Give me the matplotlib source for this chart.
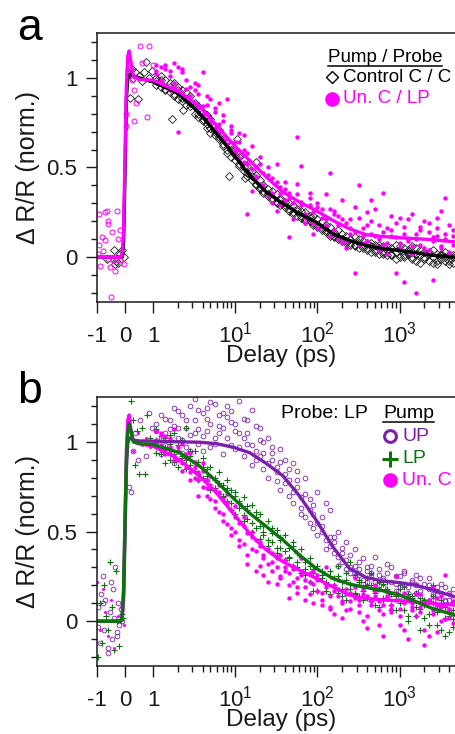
import matplotlib
matplotlib.use("Agg")
import matplotlib.pyplot as plt
from matplotlib.lines import Line2D

plt.rcParams["font.family"] = ["Liberation Sans", "DejaVu Sans"]
plt.rcParams["mathtext.fontset"] = "custom"
plt.rcParams["mathtext.rm"] = "Liberation Sans"
plt.rcParams["mathtext.it"] = "Liberation Sans:italic"
plt.rcParams["axes.unicode_minus"] = False

MAGENTA = "#ff00ff"
PURPLE = "#7d1fae"
GREEN = "#0b730b"
INK = "#1a1a1a"

# measurement delays (ps) after time zero, shared by all scans
delays = [1.1, 1.25, 1.4, 1.6, 1.8, 2.0, 2.25, 2.5, 2.8, 3.2,
          3.5, 4.0, 4.5, 5.0, 5.6, 6.3, 7.1, 8.0, 8.9, 10,
          11.2, 12.6, 14, 16, 18, 20, 22, 25, 28, 32,
          35, 40, 45, 50, 56, 63, 71, 80, 89, 100,
          112, 126, 141, 158, 178, 200, 224, 251, 282, 316,
          355, 398, 447, 501, 562, 631, 708, 794, 891, 1000,
          1122, 1259, 1413, 1585, 1778, 1995, 2239, 2512, 2818, 3162,
          3548, 3981, 4467]

# ---- panel a: Control C / C (diamonds) ----
ctrl_y1 = [1.00, 0.95, 0.99, 0.92, 0.97, 0.88, 0.93, 0.85, 0.90, 0.80,
           0.84, 0.76, 0.79, 0.69, 0.73, 0.66, 0.62, 0.60, 0.63, 0.54,
           0.56, 0.48, 0.51, 0.43, 0.46, 0.38, 0.40, 0.34, 0.37, 0.31,
           0.33, 0.28, 0.30, 0.25, 0.27, 0.22, 0.25, 0.20, 0.23, 0.17,
           0.20, 0.14, 0.17, 0.11, 0.15, 0.09, 0.12, 0.07, 0.11, 0.05,
           0.09, 0.04, 0.08, 0.03, 0.07, 0.02, 0.06, 0.01, 0.07, 0.00,
           0.05, 0.02, 0.06, -0.02, 0.04, 0.00, 0.03, -0.03, 0.02, -0.01,
           0.03, -0.04, 0.01]
ctrl_y2 = [0.96, 0.99, 0.93, 0.97, 0.90, 0.95, 0.87, 0.92, 0.84, 0.86,
           0.78, 0.81, 0.72, 0.77, 0.68, 0.71, 0.66, 0.64, 0.56, 0.60,
           0.51, 0.54, 0.45, 0.48, 0.40, 0.43, 0.36, 0.38, 0.32, 0.35,
           0.29, 0.31, 0.26, 0.29, 0.23, 0.26, 0.20, 0.22, 0.18, 0.21,
           0.15, 0.18, 0.12, 0.14, 0.10, 0.13, 0.08, 0.10, 0.06, 0.10,
           0.05, 0.08, 0.03, 0.07, 0.02, 0.06, 0.01, 0.05, -0.01, 0.06,
           0.00, 0.04, -0.01, 0.05, -0.03, 0.03, -0.02, 0.04, -0.04, 0.02,
           -0.02, 0.01, -0.03]
ctrl_y3 = [0.98, 1.01, 0.94, 0.95, 0.91, 0.93, 0.89, 0.88, 0.86, 0.84,
           0.80, 0.77, 0.74, 0.72, 0.70, 0.67, 0.63, 0.58, 0.60, 0.57,
           0.52, 0.50, 0.47, 0.45, 0.41, 0.39, 0.37, 0.35, 0.33, 0.30,
           0.32, 0.29, 0.27, 0.24, 0.26, 0.23, 0.21, 0.23, 0.19, 0.18,
           0.16, 0.15, 0.13, 0.12, 0.11, 0.10, 0.09, 0.08, 0.07, 0.08,
           0.06, 0.05, 0.06, 0.04, 0.05, 0.03, 0.04, 0.02, 0.03, 0.04,
           0.01, 0.03, 0.00, 0.02, 0.01, -0.01, 0.02, 0.00, -0.02, 0.01,
           0.00, -0.02, 0.00]
ctrl_early_t = [-0.65, -0.38, -0.35, -0.33, -0.24, -0.18, -0.12, -0.05, 0.14, 0.19,
                0.25, 0.30, 0.35, 0.45, 0.50, 0.60, 0.68, 0.75, 0.85, 0.95,
                1.7, 2.3, 8.5, 10.5, 13, 18]
ctrl_early_y = [-0.01, 0.04, -0.04, -0.02, -0.03, 0.02, 0.04, 0.00, 1.02, 0.89,
                1.05, 1.00, 1.03, 0.88, 1.01, 0.98, 1.03, 1.09, 1.00, 1.04,
                0.77, 0.82, 0.45, 0.66, 0.44, 0.53]

# ---- panel a: Un. C / LP (magenta) ----
unc_a_y1 = [1.07, 0.98, 1.05, 0.93, 1.08, 0.70, 1.03, 0.94, 0.90, 0.97,
            0.83, 1.03, 0.80, 0.88, 0.72, 0.86, 0.66, 0.88, 0.71, 0.58,
            0.69, 0.60, 0.24, 0.62, 0.45, 0.56, 0.38, 0.50, 0.30, 0.52,
            0.35, 0.42, 0.11, 0.30, 0.67, 0.51, 0.22, 0.36, 0.19, 0.28,
            0.17, 0.35, 0.47, 0.26, 0.10, 0.32, 0.05, 0.21, -0.09, 0.40,
            0.12, 0.25, 0.32, 0.06, 0.18, 0.36, 0.02, 0.15, -0.09, 0.22,
            -0.14, 0.10, 0.24, -0.20, 0.15, 0.05, 0.19, -0.13, 0.12, 0.26,
            0.33, 0.02, 0.15]
unc_a_y2 = [1.02, 1.06, 0.96, 1.04, 0.95, 1.06, 0.91, 0.99, 0.87, 0.93,
            0.96, 0.84, 0.90, 0.77, 0.83, 0.74, 0.79, 0.66, 0.73, 0.64,
            0.55, 0.68, 0.52, 0.37, 0.50, 0.41, 0.47, 0.34, 0.44, 0.26,
            0.39, 0.32, 0.36, 0.21, 0.41, 0.29, 0.24, 0.33, 0.13, 0.30,
            0.22, 0.18, 0.27, 0.15, 0.23, 0.08, 0.19, 0.13, 0.28, 0.07,
            0.16, 0.09, 0.20, 0.12, 0.04, 0.14, 0.08, 0.23, 0.11, 0.05,
            0.17, 0.09, 0.02, 0.13, 0.07, 0.20, 0.04, 0.11, 0.16, 0.06,
            0.10, 0.03, 0.12]
unc_a_y3 = [1.04, 0.99, 1.07, 1.01, 0.97, 0.93, 1.05, 0.89, 0.95, 0.86,
            0.91, 0.80, 0.85, 0.75, 0.81, 0.70, 0.76, 0.63, 0.69, 0.60,
            0.64, 0.53, 0.58, 0.49, 0.44, 0.52, 0.40, 0.46, 0.36, 0.42,
            0.29, 0.38, 0.33, 0.27, 0.35, 0.31, 0.19, 0.29, 0.25, 0.16,
            0.27, 0.21, 0.12, 0.24, 0.18, 0.21, 0.09, 0.16, 0.14, 0.22,
            0.08, 0.18, 0.13, 0.27, 0.10, 0.07, 0.16, 0.12, 0.19, 0.08,
            0.13, 0.21, 0.06, 0.10, 0.17, 0.03, 0.14, 0.09, 0.22, 0.05,
            0.13, 0.18, 0.07]
unc_a_early_t = [-0.93, -0.65, -0.71, -0.62, -0.60, -0.30, -0.48, -0.81, -0.71, -0.93,
                 -0.18, -0.24, -0.77, -0.95, -0.89, -0.54, -0.34, -0.02, -0.50, -0.43,
                 -0.18, -0.60, 0.02, 0.05, 0.12, 0.25, 0.31, 0.33, 0.38, 0.54,
                 0.60, 0.80, 0.86, 1.00]
unc_a_early_y = [0.24, 0.26, 0.25, 0.20, 0.185, 0.26, 0.14, 0.11, 0.095, 0.067,
                 0.15, 0.10, 0.035, 0.02, -0.05, -0.057, -0.077, -0.04, -0.22, -0.017,
                 -0.017, -0.01, 0.73, 0.80, 1.04, 0.99, 0.93, 0.76, 0.86, 1.18,
                 1.08, 0.78, 1.18, 1.07]

# ---- panel b: pump UP / LP / Un. C, probe LP ----
up_y1 = [1.10, 0.93, 1.05, 1.12, 0.88, 1.08, 1.15, 0.97, 1.20, 1.05,
         1.18, 0.95, 1.13, 1.22, 1.02, 1.15, 1.08, 1.20, 0.98, 1.10,
         1.23, 0.92, 1.05, 1.18, 0.95, 1.08, 0.85, 1.02, 0.90, 0.78,
         0.96, 0.82, 0.70, 0.88, 0.75, 0.60, 0.80, 0.68, 0.52, 0.72,
         0.58, 0.45, 0.62, 0.38, 0.50, 0.33, 0.44, 0.30, 0.40, 0.26,
         0.35, 0.22, 0.31, 0.18, 0.29, 0.24, 0.17, 0.30, 0.21, 0.14,
         0.27, 0.19, 0.12, 0.26, 0.17, 0.10, 0.24, 0.15, 0.08, 0.21,
         0.12, 0.06, 0.18]
up_y2 = [1.00, 1.15, 0.98, 1.07, 1.19, 1.02, 0.94, 1.12, 1.04, 1.24,
         0.99, 1.16, 1.06, 0.97, 1.21, 1.09, 0.93, 1.14, 1.17, 0.96,
         1.05, 1.13, 0.99, 0.87, 1.09, 0.92, 1.00, 0.80, 0.94, 0.86,
         0.73, 0.90, 0.79, 0.66, 0.84, 0.63, 0.71, 0.55, 0.65, 0.48,
         0.53, 0.66, 0.42, 0.47, 0.36, 0.41, 0.29, 0.37, 0.25, 0.33,
         0.21, 0.28, 0.25, 0.36, 0.20, 0.23, 0.32, 0.15, 0.25, 0.19,
         0.28, 0.13, 0.22, 0.16, 0.24, 0.11, 0.20, 0.14, 0.17, 0.09,
         0.19, 0.12, 0.10]
up_y3 = [1.06, 1.02, 1.13, 0.96, 1.09, 1.17, 1.01, 1.08, 0.95, 1.12,
         1.07, 1.03, 1.19, 1.10, 0.99, 1.05, 1.16, 1.02, 1.11, 1.06,
         0.97, 1.02, 1.12, 0.98, 0.90, 1.01, 0.94, 0.88, 0.97, 0.83,
         0.89, 0.77, 0.85, 0.72, 0.79, 0.69, 0.58, 0.62, 0.60, 0.55,
         0.50, 0.40, 0.47, 0.44, 0.31, 0.38, 0.34, 0.27, 0.31, 0.29,
         0.23, 0.30, 0.27, 0.22, 0.26, 0.19, 0.27, 0.22, 0.17, 0.25,
         0.21, 0.16, 0.23, 0.20, 0.14, 0.21, 0.18, 0.12, 0.19, 0.16,
         0.11, 0.16, 0.13]
up_early_t = [-0.97, -0.90, -0.85, -0.80, -0.75, -0.70, -0.62, -0.55, -0.50, -0.45,
              -0.40, -0.35, -0.30, -0.25, -0.20, -0.15, -0.10, -0.95, -0.78, -0.60,
              -0.42, -0.28, 0.15, 0.20, 0.30, 0.35, 0.45, 0.55, 0.65, 0.75,
              0.85, 0.95]
up_early_y = [0.08, -0.12, 0.15, 0.25, -0.05, 0.12, -0.18, 0.05, 0.22, -0.10,
              0.02, 0.30, -0.08, 0.10, -0.02, 0.07, 0.00, -0.03, 0.10, -0.15,
              0.18, -0.06, 0.75, 0.72, 0.95, 1.05, 0.90, 1.12, 1.00, 0.92,
              1.16, 1.08]

lp_y1 = [1.07, 0.96, 1.02, 0.90, 1.05, 0.98, 0.92, 1.08, 0.87, 0.95,
         0.82, 0.91, 0.78, 0.86, 0.74, 0.83, 0.70, 0.79, 0.66, 0.72,
         0.63, 0.69, 0.57, 0.65, 0.52, 0.60, 0.48, 0.56, 0.44, 0.51,
         0.41, 0.48, 0.36, 0.44, 0.30, 0.40, 0.26, 0.35, 0.17, 0.31,
         0.24, 0.17, 0.28, 0.19, 0.25, 0.14, 0.23, 0.33, 0.16, 0.22,
         0.12, 0.20, 0.27, 0.09, 0.18, 0.13, 0.22, 0.06, 0.16, 0.10,
         0.19, 0.03, 0.14, 0.08, -0.05, 0.12, 0.04, 0.20, -0.02, 0.09,
         -0.08, 0.05, 0.01]
lp_y2 = [0.94, 1.03, 0.88, 0.99, 0.93, 0.86, 1.01, 0.90, 0.95, 0.84,
         0.89, 0.80, 0.85, 0.75, 0.79, 0.71, 0.76, 0.67, 0.73, 0.60,
         0.67, 0.56, 0.62, 0.50, 0.58, 0.46, 0.53, 0.42, 0.49, 0.38,
         0.45, 0.34, 0.41, 0.31, 0.38, 0.27, 0.33, 0.22, 0.29, 0.17,
         0.26, 0.21, 0.15, 0.24, 0.31, 0.18, 0.12, 0.21, 0.26, 0.14,
         0.19, 0.24, 0.11, 0.17, 0.08, 0.21, 0.13, 0.15, 0.06, 0.18,
         0.11, 0.00, 0.13, 0.16, 0.07, 0.02, 0.11, 0.14, 0.05, -0.05,
         0.08, 0.03, -0.03]
lp_y3 = [1.01, 0.93, 0.97, 1.04, 0.89, 0.95, 0.91, 0.85, 0.92, 0.88,
         0.79, 0.86, 0.81, 0.73, 0.80, 0.77, 0.69, 0.74, 0.62, 0.70,
         0.66, 0.59, 0.64, 0.55, 0.61, 0.53, 0.50, 0.45, 0.52, 0.41,
         0.47, 0.39, 0.35, 0.42, 0.33, 0.36, 0.29, 0.31, 0.27, 0.24,
         0.28, 0.22, 0.25, 0.20, 0.16, 0.22, 0.27, 0.18, 0.15, 0.23,
         0.17, 0.13, 0.20, 0.16, 0.22, 0.12, 0.18, 0.09, 0.14, 0.20,
         0.06, 0.15, 0.11, 0.03, 0.13, 0.09, -0.02, 0.10, 0.07, 0.12,
         0.02, -0.06, 0.06]
lp_early_t = [-0.95, -0.90, -0.82, -0.75, -0.68, -0.60, -0.55, -0.48, -0.40, -0.33,
              -0.27, -0.20, -0.12, -0.06, 0.20, 0.28, 0.35, 0.42, 0.50, 0.60,
              0.70, 0.80, 0.90]
lp_early_y = [-0.20, 0.10, -0.12, 0.20, 0.03, -0.05, 0.33, 0.08, -0.16, 0.28,
              0.00, -0.14, 0.04, 0.02, 1.23, 1.12, 0.87, 1.06, 0.82, 1.08,
              0.82, 1.15, 1.02]

unc_b_y1 = [1.06, 0.98, 1.03, 0.94, 1.07, 0.90, 0.99, 0.86, 0.94, 0.80,
            0.70, 0.88, 0.74, 0.81, 0.67, 0.76, 0.60, 0.71, 0.52, 0.64,
            0.45, 0.58, 0.32, 0.50, 0.39, 0.44, 0.26, 0.40, 0.33, 0.21,
            0.37, 0.28, 0.13, 0.31, 0.24, 0.35, 0.19, 0.27, 0.10, 0.23,
            0.16, 0.30, 0.07, 0.20, 0.14, 0.02, 0.18, 0.11, 0.24, 0.05,
            0.15, -0.04, 0.12, 0.20, 0.06, -0.08, 0.14, 0.09, 0.25, 0.03,
            0.16, -0.10, 0.10, 0.21, 0.05, -0.13, 0.12, 0.19, -0.06, 0.08,
            0.26, 0.02, 0.11]
unc_b_y2 = [1.01, 1.05, 0.96, 1.02, 0.92, 0.97, 0.88, 0.93, 0.83, 0.89,
            0.79, 0.84, 0.70, 0.76, 0.63, 0.72, 0.56, 0.66, 0.48, 0.58,
            0.42, 0.53, 0.37, 0.47, 0.28, 0.42, 0.35, 0.22, 0.38, 0.30,
            0.25, 0.34, 0.20, 0.29, 0.16, 0.26, 0.12, 0.22, 0.28, 0.17,
            0.09, 0.21, 0.14, 0.04, 0.18, 0.10, 0.15, 0.07, 0.19, 0.12,
            0.00, 0.14, 0.09, 0.17, 0.11, 0.04, 0.13, 0.07, 0.16, -0.02,
            0.10, 0.13, 0.06, 0.15, 0.08, -0.05, 0.12, 0.04, 0.09, 0.14,
            0.01, 0.07, 0.10]
unc_b_y3 = [0.99, 1.04, 0.93, 0.97, 0.90, 0.95, 0.84, 0.91, 0.79, 0.86,
            0.83, 0.75, 0.79, 0.68, 0.73, 0.61, 0.68, 0.54, 0.62, 0.50,
            0.55, 0.43, 0.49, 0.40, 0.45, 0.31, 0.37, 0.32, 0.28, 0.35,
            0.24, 0.30, 0.27, 0.22, 0.19, 0.28, 0.23, 0.15, 0.21, 0.26,
            0.12, 0.19, 0.08, 0.17, 0.23, 0.11, 0.06, 0.16, 0.13, 0.09,
            0.18, 0.03, 0.11, 0.14, -0.02, 0.09, 0.17, 0.05, 0.12, 0.07,
            -0.05, 0.13, 0.08, 0.03, 0.15, 0.10, -0.08, 0.06, 0.13, 0.00,
            0.09, 0.15, -0.01]
unc_b_early_t = [-0.98, -0.90, -0.80, -0.72, -0.60, -0.50, -0.38, -0.25, -0.15, -0.05,
                 0.20, 0.30, 0.45, 0.60, 0.75, 0.90]
unc_b_early_y = [0.22, -0.05, 0.18, 0.05, -0.08, 0.12, -0.15, 0.03, 0.08, -0.02,
                 1.03, 0.95, 1.05, 0.98, 1.02, 0.97]

# ---- fitted curves ----
fit_t = [-1, -0.15, -0.1, -0.05, 0, 0.05, 0.1, 0.15, 0.2, 0.3,
         0.5, 1, 2.1, 3.7, 5.9, 9.4, 14.9, 23.8, 38, 60,
         96, 153, 244, 390, 620, 1000, 1585, 2500, 4700]
fit_ctrl = [0, 0, 0.0, 0.08, 0.45, 0.88, 1.0, 1.02, 1.02, 1.01,
            1.0, 0.977, 0.91, 0.80, 0.69, 0.577, 0.456, 0.363, 0.298, 0.242,
            0.196, 0.13, 0.093, 0.065, 0.047, 0.037, 0.024, 0.01, 0.0]
fit_unc_a = [0, 0, 0.02, 0.15, 0.55, 0.95, 1.12, 1.15, 1.10, 1.01,
             0.99, 0.987, 0.92, 0.84, 0.735, 0.63, 0.54, 0.447, 0.363, 0.307,
             0.26, 0.205, 0.158, 0.125, 0.115, 0.108, 0.103, 0.097, 0.085]
fit_up = [0, 0, 0.02, 0.12, 0.45, 0.85, 0.99, 1.02, 1.02, 1.01,
          1.005, 1.004, 1.0, 0.998, 0.99, 0.97, 0.94, 0.88, 0.81, 0.70,
          0.565, 0.416, 0.295, 0.244, 0.224, 0.215, 0.20, 0.174, 0.136]
fit_lp = [0, 0, 0.03, 0.18, 0.55, 0.90, 1.05, 1.10, 1.07, 1.0,
          0.99, 0.985, 0.94, 0.864, 0.78, 0.687, 0.603, 0.528, 0.453, 0.37,
          0.295, 0.239, 0.207, 0.188, 0.17, 0.146, 0.108, 0.071, 0.034]
fit_unc_b = [0, 0, 0.02, 0.15, 0.55, 0.95, 1.12, 1.15, 1.08, 1.0,
             0.99, 0.976, 0.90, 0.808, 0.715, 0.603, 0.49, 0.397, 0.332, 0.285,
             0.239, 0.192, 0.146, 0.127, 0.118, 0.114, 0.106, 0.099, 0.09]

x_major = [-1, 0, 1, 10, 100, 1000]
x_major_labels = ["-1", "0", "1", "$10^1$", "$10^2$", "$10^3$"]
x_minor = [m * d for d in (1, 10, 100) for m in range(2, 10)] + [2000, 3000, 4000]
y_major = [0, 0.5, 1]
y_major_labels = ["0", "0.5", "1"]
y_minor = [-0.2, -0.1, 0.1, 0.2, 0.3, 0.4, 0.6, 0.7, 0.8, 0.9, 1.1, 1.2]


def style_axes(ax):
    ax.set_xscale("symlog", linthresh=1, linscale=0.307)
    ax.set_xlim(-1, 4700)
    ax.set_ylim(-0.25, 1.25)
    ax.set_xticks(x_major, labels=x_major_labels)
    ax.set_xticks(x_minor, minor=True)
    ax.set_yticks(y_major, labels=y_major_labels)
    ax.set_yticks(y_minor, minor=True)
    ax.tick_params(which="both", direction="out", width=1.0, color=INK,
                   labelcolor=INK, labelsize=16)
    ax.tick_params(which="major", length=8)
    ax.tick_params(which="minor", length=4.5)
    ax.tick_params(axis="x", which="major", pad=21)
    ax.tick_params(axis="y", which="major", pad=6)
    for lab in ax.get_xticklabels():
        lab.set_va("baseline")
    for side in ("left", "bottom", "top"):
        ax.spines[side].set_linewidth(1.1)
        ax.spines[side].set_color(INK)
    ax.spines["right"].set_visible(False)
    ax.set_xlabel("Delay (ps)", fontsize=17.5, color=INK)
    ax.xaxis.set_label_coords(0.514, -0.16)
    ax.set_ylabel("\u0394 R/R (norm.)", fontsize=18, color=INK)
    ax.yaxis.set_label_coords(-0.16, 0.5)


fig = plt.figure(figsize=(4.55, 7.34), dpi=100)
ax_a = fig.add_axes([0.213, 0.5886, 0.787, 0.3665])
ax_b = fig.add_axes([0.213, 0.0926, 0.787, 0.3665])

# panel a
ax_a.plot(delays * 3 + ctrl_early_t, ctrl_y1 + ctrl_y2 + ctrl_y3 + ctrl_early_y,
          ls="none", marker="D", ms=4.3, mfc="none", mec=INK, mew=0.6)
ax_a.plot(unc_a_early_t, unc_a_early_y, ls="none", marker="o", ms=3.6,
          mfc="none", mec=MAGENTA, mew=0.7)
ax_a.plot(delays * 3, unc_a_y1 + unc_a_y2 + unc_a_y3, ls="none", marker="o",
          ms=3.2, mfc=MAGENTA, mec=MAGENTA, mew=0)
ax_a.plot(fit_t, fit_ctrl, color="black", lw=2.4)
ax_a.plot(fit_t, fit_unc_a, color=MAGENTA, lw=2.4)
style_axes(ax_a)

# panel b
ax_b.plot(delays * 3 + up_early_t, up_y1 + up_y2 + up_y3 + up_early_y,
          ls="none", marker="o", ms=3.4, mfc="none", mec=PURPLE, mew=0.6)
ax_b.plot(delays * 3 + lp_early_t, lp_y1 + lp_y2 + lp_y3 + lp_early_y,
          ls="none", marker="+", ms=4.5, mec=GREEN, mew=0.8)
ax_b.plot(unc_b_early_t, unc_b_early_y, ls="none", marker="o", ms=2.2,
          mfc=MAGENTA, mec=MAGENTA, mew=0)
ax_b.plot(delays * 3, unc_b_y1 + unc_b_y2 + unc_b_y3, ls="none", marker="o",
          ms=3.2, mfc=MAGENTA, mec=MAGENTA, mew=0)
ax_b.plot(fit_t, fit_unc_b, color=MAGENTA, lw=2.4)
ax_b.plot(fit_t, fit_up, color=PURPLE, lw=2.4)
ax_b.plot(fit_t, fit_lp, color=GREEN, lw=2.4)
style_axes(ax_b)

# legend of panel a
head_a = ax_a.text(0.645, 0.892, "Pump / Probe", transform=ax_a.transAxes,
                   fontsize=13.5, color="black", va="baseline", ha="left")
ax_a.plot([0.656], [0.836], transform=ax_a.transAxes, marker="D", ms=6,
          mfc="none", mec="black", mew=1.0, clip_on=False)
ax_a.text(0.687, 0.836, "Control C / C", transform=ax_a.transAxes,
          fontsize=13.5, color="black", va="center", ha="left")
ax_a.plot([0.656], [0.755], transform=ax_a.transAxes, marker="o", ms=9.5,
          mfc=MAGENTA, mec=MAGENTA, clip_on=False)
ax_a.text(0.687, 0.755, "Un. C / LP", transform=ax_a.transAxes,
          fontsize=13.5, color=MAGENTA, va="center", ha="left")

# legend of panel b
ax_b.text(0.514, 0.937, "Probe: LP", transform=ax_b.transAxes,
          fontsize=14, color="black", va="center", ha="left")
head_b = ax_b.text(0.799, 0.937, "Pump", transform=ax_b.transAxes,
                   fontsize=14, color="black", va="center", ha="left")
ax_b.plot([0.818], [0.855], transform=ax_b.transAxes, marker="o", ms=8.5,
          mfc="none", mec=PURPLE, mew=2.2, clip_on=False)
ax_b.text(0.852, 0.855, "UP", transform=ax_b.transAxes,
          fontsize=14, color=PURPLE, va="center", ha="left")
ax_b.plot([0.818], [0.770], transform=ax_b.transAxes, marker="+", ms=12,
          mec=GREEN, mew=2.2, clip_on=False)
ax_b.text(0.852, 0.770, "LP", transform=ax_b.transAxes,
          fontsize=14, color=GREEN, va="center", ha="left")
ax_b.plot([0.818], [0.691], transform=ax_b.transAxes, marker="o", ms=9.5,
          mfc=MAGENTA, mec=MAGENTA, clip_on=False)
ax_b.text(0.852, 0.691, "Un. C", transform=ax_b.transAxes,
          fontsize=14, color=MAGENTA, va="center", ha="left")

# panel letters
fig.text(0.038, 0.9455, "a", fontsize=32, va="baseline", ha="left")
fig.text(0.038, 0.451, "b", fontsize=32, va="baseline", ha="left")

# underline the legend headers
fig.canvas.draw()
inv = fig.transFigure.inverted()
for head in (head_a, head_b):
    bb = head.get_window_extent()
    (x0, y0), (x1, _) = inv.transform([(bb.x0, bb.y0), (bb.x1, bb.y0)])
    fig.add_artist(Line2D([x0, x1], [y0, y0], lw=1.1, color="black"))

fig.savefig("out.png", dpi=100)
